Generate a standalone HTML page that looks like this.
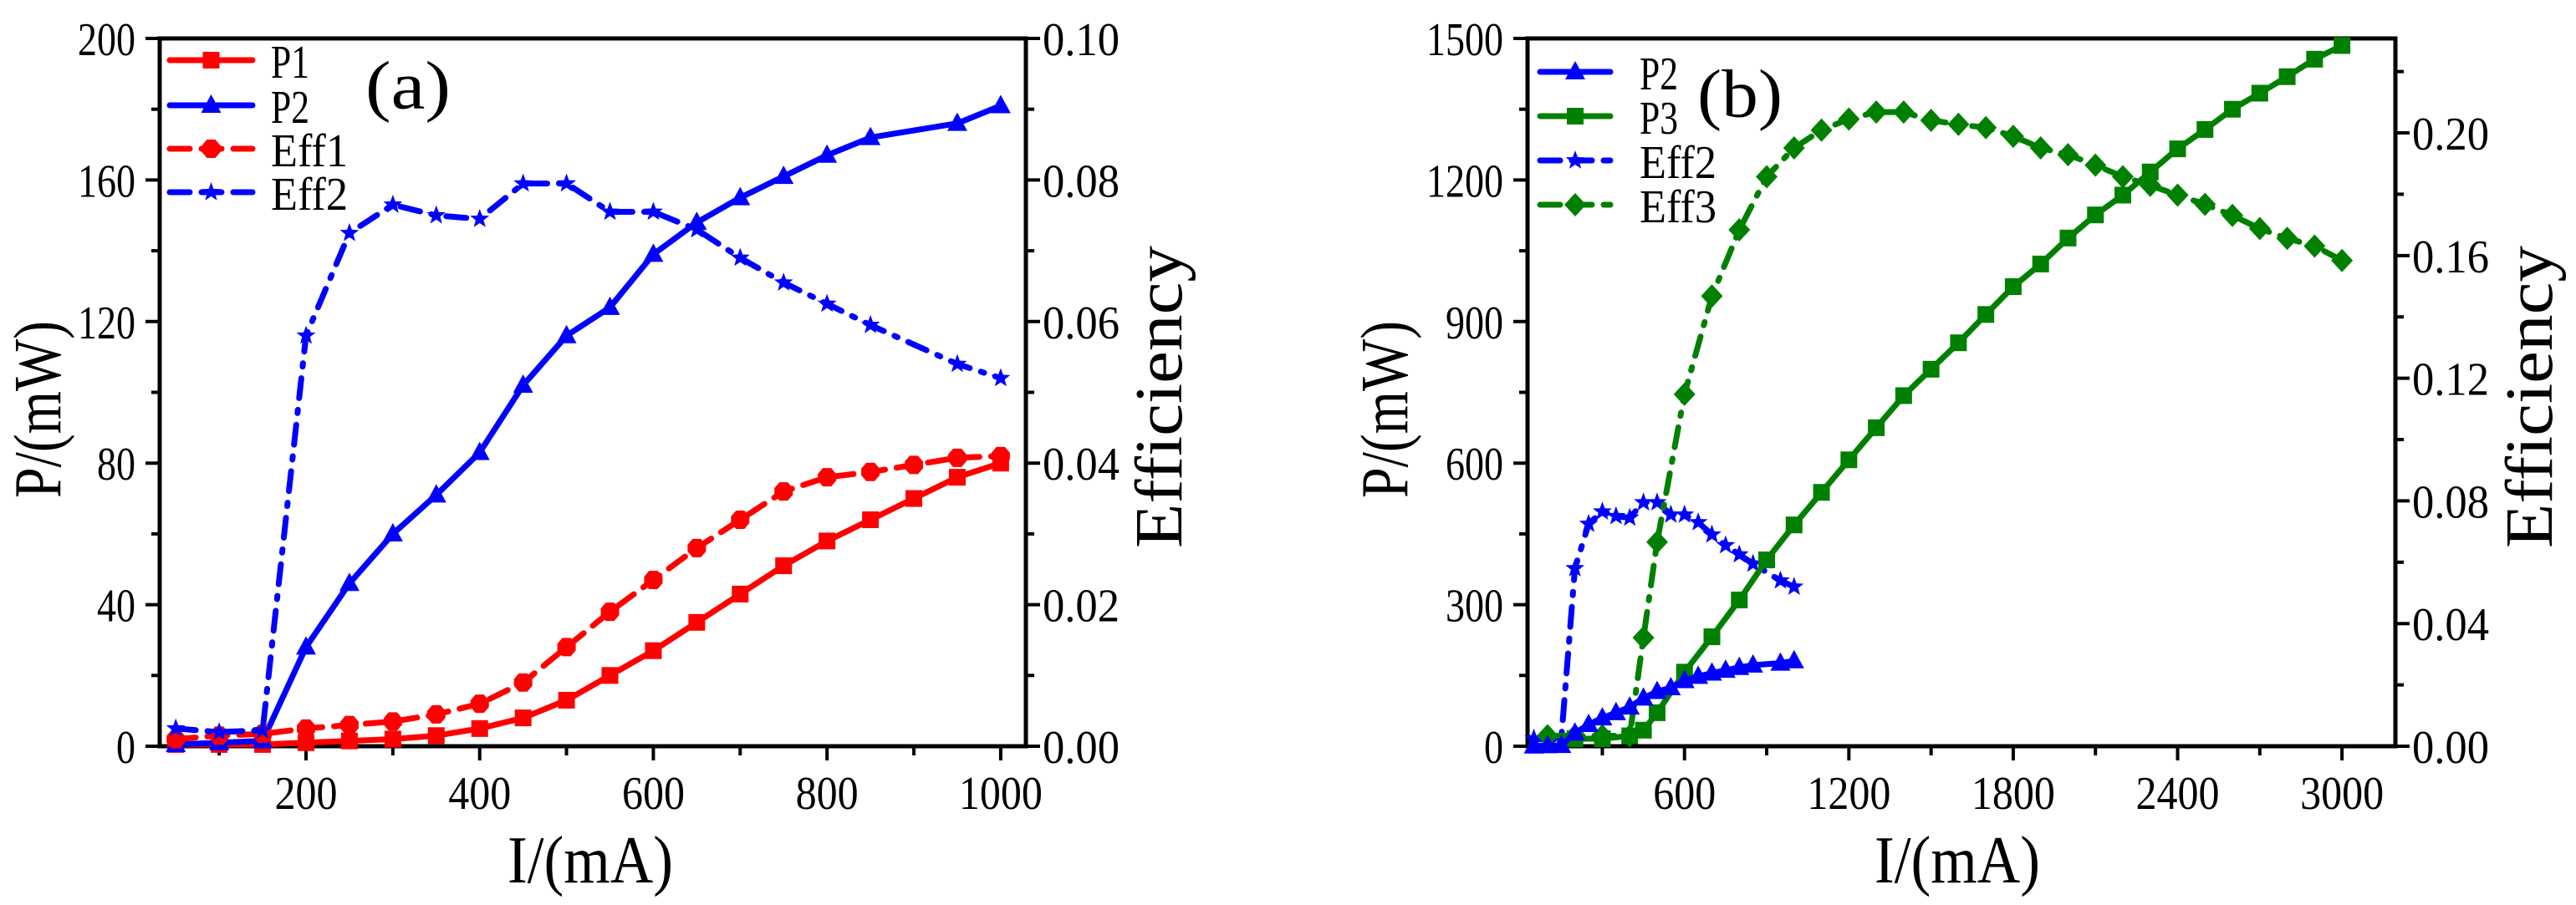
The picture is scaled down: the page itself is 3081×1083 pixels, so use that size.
<!DOCTYPE html>
<html><head><meta charset="utf-8"><style>
html,body{margin:0;padding:0;background:#fff}
svg{display:block}
text{font-family:"Liberation Serif","Noto Serif CJK SC",serif;fill:#000}
</style></head><body>
<svg id="chart" width="3081" height="1083" viewBox="0 0 3081 1083" xmlns="http://www.w3.org/2000/svg"></svg>
<script>
// ---- Panel (a) data ----
const aCurrent = [50,100,150,200,250,300,350,400,450,500,550,600,650,700,750,800,850,900,950,1000];
const aP1 = [0.5,0.5,0.5,1,1.5,2,3,5,8,13,20,27,35,43,51,58,64,70,76,80];
const aEff1 = [0.001,0.0015,0.00175,0.0025,0.003,0.0035,0.0045,0.006,0.009,0.014,0.019,0.0235,0.028,0.032,0.036,0.038,0.03875,0.03975,0.04075,0.041];
const aCurrentP2 = [50,100,150,200,250,300,350,400,450,500,550,600,650,700,750,800,850,950,1000];
const aP2 = [0.5,1,1.5,28,46,60,71,83,102,116,124,139,148,155,161,167,172,176,181];
const aEff2 = [0.0025,0.002,0.00225,0.058,0.0725,0.0765,0.075,0.0745,0.0795,0.0795,0.0755,0.0755,0.073,0.069,0.0655,0.0625,0.0595,0.054,0.052];
const aXTicks = [200,400,600,800,1000];
const aYTicks = [0,40,80,120,160,200];
const aRTicks = [0,0.02,0.04,0.06,0.08,0.10];
const aRLabels = ["0.00","0.02","0.04","0.06","0.08","0.10"];
// ---- Panel (b) data ----
const bCurrentP3 = [200,300,400,450,500,600,700,800,900,1000,1100,1200,1300,1400,1500,1600,1700,1800,1900,2000,2100,2200,2300,2400,2500,2600,2700,2800,2900,3000];
const bP3 = [16,16,22,34,71,157,232,310,395,469,538,607,675,743,799,855,915,974,1022,1077,1126,1168,1217,1266,1307,1350,1384,1419,1456,1485];
const bCurrentEff3 = [100,200,300,400,450,500,600,700,800,900,1000,1100,1200,1300,1400,1500,1600,1700,1800,1900,2000,2100,2200,2300,2400,2500,2600,2700,2800,2900,3000];
const bEff3 = [0.0034,0.0034,0.0034,0.0034,0.0354,0.0666,0.1148,0.1468,0.1684,0.1857,0.1951,0.2009,0.2045,0.2068,0.2068,0.2041,0.2028,0.2017,0.1989,0.1951,0.1929,0.1895,0.1857,0.1829,0.1797,0.1767,0.1731,0.1688,0.1656,0.1631,0.1584];
const bXTicks = [600,1200,1800,2400,3000];
const bYTicks = [0,300,600,900,1200,1500];
const bRTicks = [0,0.04,0.08,0.12,0.16,0.20];
const bRLabels = ["0.00","0.04","0.08","0.12","0.16","0.20"];

const svg = document.getElementById('chart');
const NS = 'http://www.w3.org/2000/svg';
function el(tag, attrs, parent){const e=document.createElementNS(NS,tag);for(const k in attrs)e.setAttribute(k,attrs[k]);(parent||svg).appendChild(e);return e;}
function txt(s, x, y, size, anchor, parent, rot, len){
  const t=el('text',{x:x,y:y,'font-size':size,'text-anchor':anchor||'start','dominant-baseline':'central'},parent);
  if(len){t.setAttribute('textLength',len);t.setAttribute('lengthAdjust','spacingAndGlyphs');}
  if(rot)t.setAttribute('transform','rotate('+rot+' '+x+' '+y+')');
  t.textContent=s;return t;}

function marker(type,x,y,color,g){
  if(type==='square') return el('rect',{x:x-10,y:y-10,width:20,height:20,fill:color},g);
  if(type==='tri') return el('polygon',{points:`${x},${y-13} ${x+12},${y+9} ${x-12},${y+9}`,fill:color},g);
  if(type==='hex') return el('polygon',{points:`${x-5},${y-11} ${x+5},${y-11} ${x+11},${y-4} ${x+11},${y+4} ${x+5},${y+11} ${x-5},${y+11} ${x-11},${y+4} ${x-11},${y-4}`,fill:color},g);
  if(type==='diamond') return el('polygon',{points:`${x},${y-14} ${x+13},${y} ${x},${y+14} ${x-13},${y}`,fill:color},g);
  if(type==='star'){let p=[];for(let i=0;i<10;i++){const r=i%2?5:12;const a=-Math.PI/2+i*Math.PI/5;p.push((x+r*Math.cos(a)).toFixed(1)+','+(y+r*Math.sin(a)).toFixed(1));}return el('polygon',{points:p.join(' '),fill:color},g);}
}

function panel(cfg){
  const g=el('g',{});
  
  
  const X=v=>cfg.L+(v-cfg.x0)/(cfg.x1-cfg.x0)*(cfg.R-cfg.L);
  const Y=v=>cfg.B-(v-cfg.y0)/(cfg.y1-cfg.y0)*(cfg.B-cfg.T);
  const YR=v=>cfg.B-(v-cfg.r0)/(cfg.r1-cfg.r0)*(cfg.B-cfg.T);
  const fr=el('rect',{x:cfg.L,y:cfg.T,width:cfg.R-cfg.L,height:cfg.B-cfg.T,fill:'none',stroke:'#000','stroke-width':5},g);
  
  
  for(let v=cfg.xMinor;v<=cfg.x1;v+=cfg.xMinor){const xx=X(v);if(xx<cfg.L+2||xx>cfg.R-2)continue;el('line',{x1:xx,y1:cfg.B,x2:xx,y2:cfg.B+(cfg.xTicks.includes(v)?17:11),stroke:'#000','stroke-width':4},g);}
  cfg.xTicks.forEach(v=>{const s=String(v);const t=txt(s,X(v),950,56,'middle',g,0,s.length*25);});
  for(let v=cfg.y0;v<=cfg.y1+1e-9;v+=cfg.yMinor){const yy=Y(v);const maj=cfg.yTicks.some(t=>Math.abs(t-v)<1e-6);el('line',{x1:cfg.L,y1:yy,x2:cfg.L-(maj?17:10),y2:yy,stroke:'#000','stroke-width':4},g);}
  cfg.yTicks.forEach(v=>{const s=String(v);const t=txt(s,cfg.L-29,Y(v)+2,56,'end',g,0,s.length*23);});
  for(let v=cfg.r0;v<=cfg.r1+1e-9;v+=cfg.rMinor){const yy=YR(v);const maj=cfg.rTicks.some(t=>Math.abs(t-v)<1e-6);el('line',{x1:cfg.R,y1:yy,x2:cfg.R+(maj?17:10),y2:yy,stroke:'#000','stroke-width':4},g);}
  cfg.rTicks.forEach((v,i)=>{const t=txt(cfg.rLabels[i],cfg.R+20,YR(v)+2,56,'start',g,0,92);});
  const xt=txt('I/(mA)',cfg.xTitleX,1030,80,'middle',g,0,198);
  
  const yt=txt('P/(mW)',cfg.yTitleX,490,80,'middle',g,-90,212);
  
  const rt=txt('Efficiency',cfg.rTitleX,475,80,'middle',g,-90,362);
  
  const pl=txt(cfg.label,cfg.labelX,cfg.labelY,82,'start',g,0,102);
  
  cfg.series.forEach(s=>{
    const sg=el('g',{},g);
    
    
    const F=s.right?YR:Y;
    const pts=s.xs.map((x,i)=>X(x).toFixed(1)+','+F(s.ys[i]).toFixed(1)).join(' ');
    const ln=el('polyline',{points:pts,fill:'none',stroke:s.color,'stroke-width':7,'stroke-linejoin':'round','stroke-linecap':'round'},sg);
    if(s.dash)ln.setAttribute('stroke-dasharray',s.dash);
    
    
    s.xs.forEach((x,i)=>{const m=marker(s.marker,X(x),F(s.ys[i]),s.color,sg);
      
      });
  });
  const lg=el('g',{},g);
  
  
  cfg.legend.forEach((s,i)=>{
    const y=cfg.legY[i];
    const le=el('g',{},lg);
    
    
    const l=el('line',{x1:cfg.legX0,y1:y,x2:cfg.legX1,y2:y,stroke:s.color,'stroke-width':7,'stroke-linecap':'round'},le);
    if(s.dash)l.setAttribute('stroke-dasharray',s.legDash);
    marker(s.marker,(cfg.legX0+cfg.legX1)/2,y,s.color,le);
    txt(s.name,cfg.legTX,y+3,56,'start',le,0,s.name.length*23);
  });
}

const sP1={id:'p1',name:'P1',xs:aCurrent,ys:aP1,color:'#ff0000',marker:'square'};
const sP2={id:'p2',name:'P2',xs:aCurrentP2,ys:aP2,color:'#0000ff',marker:'tri'};
const sE1={id:'eff1',name:'Eff1',xs:aCurrent,ys:aEff1,color:'#ff0000',marker:'hex',right:true,dash:'24 14',legDash:'24 14'};
const sE2={id:'eff2',name:'Eff2',xs:aCurrentP2,ys:aEff2,color:'#0000ff',marker:'star',right:true,dash:'24 14 4 14',legDash:'24 14'};
panel({name:'panel-a',L:191,R:1227,T:46,B:893,x0:31.5,x1:1029,y0:0,y1:200,r0:0,r1:0.1,
  xTicks:aXTicks,xMinor:100,yTicks:aYTicks,yMinor:20,rTicks:aRTicks,rLabels:aRLabels,rMinor:0.01,
  xTitleX:706,yTitleX:46,rTitleX:1387,label:'(a)',labelX:437,labelY:102,
  series:[sP1,sP2,sE1,sE2],legend:[sP1,sP2,sE1,sE2],legY:[72,126,178,230],legX0:203,legX1:302,legTX:324});

const bP2={id:'b-p2',name:'P2',xs:aCurrentP2,ys:aP2,color:'#0000ff',marker:'tri'};
const bE2={id:'b-eff2',name:'Eff2',xs:aCurrentP2,ys:aEff2,color:'#0000ff',marker:'star',right:true,dash:'24 14 4 14',legDash:'24 14'};
const bP3s={id:'p3',name:'P3',xs:bCurrentP3,ys:bP3,color:'#008000',marker:'square'};
const bE3={id:'eff3',name:'Eff3',xs:bCurrentEff3,ys:bEff3,color:'#008000',marker:'diamond',right:true,dash:'24 14 4 14',legDash:'24 14'};
panel({name:'panel-b',L:1827,R:2865,T:46,B:893,x0:27,x1:3195,y0:0,y1:1500,r0:0,r1:0.2308,
  xTicks:bXTicks,xMinor:300,yTicks:bYTicks,yMinor:150,rTicks:bRTicks,rLabels:bRLabels,rMinor:0.02,
  xTitleX:2341,yTitleX:1657,rTitleX:3026,label:'(b)',labelX:2030,labelY:112,
  series:[bE2,bE3,bP3s,bP2],legend:[bP2,bP3s,bE2,bE3],legY:[86,139,192,245],legX0:1842,legX1:1926,legTX:1961});
</script>
</body></html>
